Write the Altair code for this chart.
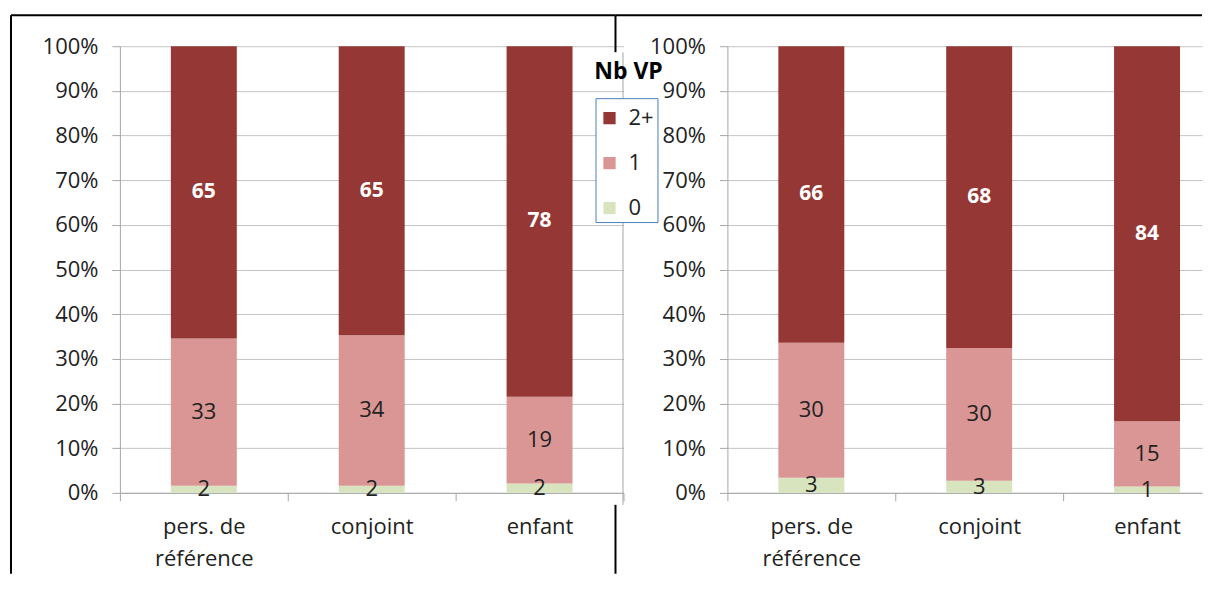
import altair as alt
import pandas as pd

categories = ["pers. de référence", "conjoint", "enfant"]
vp_levels = ["0", "1", "2+"]
legend_order = ["2+", "1", "0"]
colors = ["#953735", "#D99694", "#D7E4BD"]

share_0_left = [1.6, 1.6, 2.1]
share_1_left = [32.9, 33.7, 19.4]
share_2p_left = [65.4, 64.7, 78.4]

share_0_right = [3.4, 2.7, 1.4]
share_1_right = [30.2, 29.7, 14.6]
share_2p_right = [66.4, 67.6, 84.0]

y_ticks = [0, 0.1, 0.2, 0.3, 0.4, 0.5, 0.6, 0.7, 0.8, 0.9, 1.0]

FONT = "Open Sans"
TXT = "#222222"
AXC = "#A6A6A6"
GRID = "#C4C4C4"
FS = 22


def make_df(s0, s1, s2):
    rows = []
    for i, c in enumerate(categories):
        for k, (lvl, arr) in enumerate(zip(vp_levels, [s0, s1, s2])):
            rows.append({"cat": c, "nb": lvl, "ord": k, "share": arr[i]})
    return pd.DataFrame(rows)


frame_df = pd.DataFrame({"k": [0]})


def vline(x, y1, y2, color="black", w=2):
    return alt.Chart(frame_df).mark_rule(color=color, strokeWidth=w).encode(
        x=alt.value(x), y=alt.value(y1), y2=alt.value(y2))


def hline(x1, x2, y, color="black", w=2):
    return alt.Chart(frame_df).mark_rule(color=color, strokeWidth=w).encode(
        x=alt.value(x1), x2=alt.value(x2), y=alt.value(y))


LABEL_EXPR = "datum.value == 'pers. de référence' ? ['pers. de', 'référence'] : datum.value"


def panel(df, extra_layers, width, xscale, xaxis_extra):
    base = alt.Chart(df).transform_stack(
        stack="share", groupby=["cat"], as_=["y0", "y1"],
        sort=[alt.SortField(field="ord", order="ascending")], offset="normalize"
    ).transform_calculate(mid="(datum.y0 + datum.y1) / 2")

    x = alt.X("cat:N", sort=categories, title=None, scale=xscale,
              axis=alt.Axis(labelAngle=0, labelExpr=LABEL_EXPR,
                            labelLineHeight=32, labelPadding=16, tickSize=8,
                            domainColor=AXC, tickColor=AXC, labelFont=FONT,
                            labelFontSize=FS, labelColor=TXT, grid=False,
                            **xaxis_extra))
    yaxis = alt.Axis(values=y_ticks, format=".0%", tickSize=8, labelPadding=14,
                     domainColor=AXC, tickColor=AXC, gridColor=GRID,
                     labelFont=FONT, labelFontSize=FS, labelColor=TXT, title=None)
    yscale = alt.Scale(domain=[0, 1], nice=False)

    bars = base.mark_bar(width=66).encode(
        x=x,
        y=alt.Y("y0:Q", scale=yscale, axis=yaxis),
        y2="y1:Q",
        color=alt.Color("nb:N", scale=alt.Scale(domain=legend_order, range=colors),
                        legend=alt.Legend(orient="none", legendX=476, legendY=52, title=" ",
                                          titleFontSize=1, titlePadding=5,
                                          symbolType="square", symbolSize=150,
                                          symbolStrokeWidth=0, symbolOpacity=1,
                                          labelFont=FONT, labelFontSize=FS, labelColor=TXT,
                                          labelOffset=8, rowPadding=23, padding=3,
                                          strokeColor="#4A7EBB", fillColor="white")),
    )
    labels_top = base.transform_filter("datum.nb == '2+'").mark_text(
        font=FONT, fontSize=21, fontWeight="bold", color="white").encode(
        x=x,
        y=alt.Y("mid:Q", scale=yscale, axis=yaxis),
        text=alt.Text("share:Q", format=".0f"),
    )
    labels_low = base.transform_filter("datum.nb != '2+'").mark_text(
        font=FONT, fontSize=FS, color=TXT).encode(
        x=x,
        y=alt.Y("mid:Q", scale=yscale, axis=yaxis),
        text=alt.Text("share:Q", format=".0f"),
    )
    return alt.layer(bars, labels_top, labels_low, *extra_layers).properties(width=width, height=447)


left_extra = [
    vline(-109, -31, 528),
    hline(-109, 496, -31),
    vline(496, -31, 6),
    vline(496, 459, 528),
    vline(503.5, 6, 459, color=AXC, w=1),
    alt.Chart(frame_df).mark_text(font=FONT, fontSize=23, fontWeight="bold", color="black").encode(
        x=alt.value(509), y=alt.value(26), text=alt.value("Nb VP")),
]
right_extra = [
    hline(-112, 475, -31),
]

left_scale = alt.Scale(paddingInner=0, paddingOuter=0)
# right panel: same 168px step as the left one, but the plot area is cut at the window edge
right_scale = alt.Scale(paddingInner=0.5, paddingOuter=0.16369, align=0.76364)

left = panel(make_df(share_0_left, share_1_left, share_2p_left), left_extra,
             504, left_scale, {"tickBand": "extent"})
right = panel(make_df(share_0_right, share_1_right, share_2p_right), right_extra,
              475, right_scale, {"bandPosition": 0, "tickExtra": False,
                                 "tickOffset": -42, "labelOffset": 42})

chart = alt.hconcat(left, right, spacing=104, bounds="flush").properties(
    padding={"left": 2, "top": 6, "right": 0, "bottom": 0}
).configure_view(stroke=None)

chart.save("out.html", embed_options={"renderer": "svg", "actions": False})
